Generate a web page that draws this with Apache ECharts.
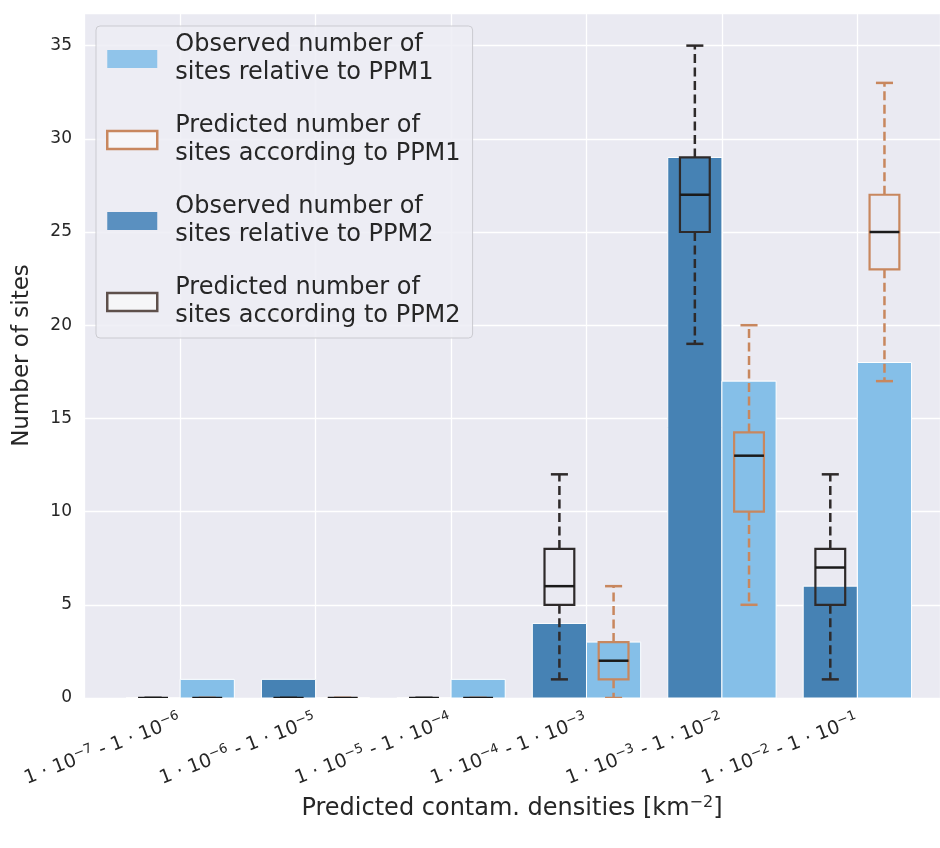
<!DOCTYPE html>
<html><head><meta charset="utf-8">
<script src="https://cdn.jsdelivr.net/npm/echarts@6/dist/echarts.min.js"></script>
<style>html,body{margin:0;padding:0;background:#fff}#c{width:940px;height:848px}</style>
</head><body><div id="c"></div>
<script>
// exponents of the density classes: 1·10^a - 1·10^b
const categories = [['−7','−6'],['−6','−5'],['−5','−4'],['−4','−3'],['−3','−2'],['−2','−1']];
const observedPPM1 = [1, 0, 1, 3, 17, 18];
const observedPPM2 = [0, 1, 0, 4, 29, 6];
// [low whisker, Q1, median, Q3, high whisker]
const predictedPPM1 = [[0,0,0,0,0],[0,0,0,0,0],[0,0,0,0,0],[0,1,2,3,6],[5,10,13,14.25,20],[17,23,25,27,33]];
const predictedPPM2 = [[0,0,0,0,0],[0,0,0,0,0],[0,0,0,0,0],[1,5,6,8,12],[19,25,27,29,35],[1,5,7,8,12]];
const yTicks = [0, 5, 10, 15, 20, 25, 30, 35];

const N1 = 'Observed number of\nsites relative to PPM1';
const N2 = 'Predicted number of\nsites according to PPM1';
const N3 = 'Observed number of\nsites relative to PPM2';
const N4 = 'Predicted number of\nsites according to PPM2';

const LIGHT = '#85bfe8', DARK = '#4682b4', ORANGE = '#c8875e', BLACKBOX = '#2e2a2a', MEDIAN = '#1a1a1a';
const TXT = '#262626';

function barItem(left, color) {
  return function (params, api) {
    const i = api.value(0), v = api.value(1);
    const x0 = left ? i - 0.4 : i;
    const p0 = api.coord([x0, v]);
    const p1 = api.coord([x0 + 0.4, 0]);
    return {type: 'rect', shape: {x: p0[0], y: p0[1], width: p1[0] - p0[0], height: p1[1] - p0[1]},
      style: {fill: color, stroke: '#ffffff', lineWidth: 1}};
  };
}
function boxItem(offset, color) {
  return function (params, api) {
    const x = api.value(0) + offset;
    const lo = api.value(1), q1 = api.value(2), md = api.value(3), q3 = api.value(4), hi = api.value(5);
    const hw = 0.11, cw = 0.063;
    const c = (a, b) => api.coord([a, b]);
    const seg = (a, b, st) => ({type: 'line', shape: {x1: a[0], y1: a[1], x2: b[0], y2: b[1]}, style: st});
    const wst = {stroke: color, lineWidth: 2.5, lineDash: [9, 4.5]};
    const cst = {stroke: color, lineWidth: 2.5};
    const tl = c(x - hw, q3), br = c(x + hw, q1);
    return {type: 'group', children: [
      seg(c(x, q1), c(x, lo), wst),
      seg(c(x, q3), c(x, hi), wst),
      seg(c(x - cw, lo), c(x + cw, lo), cst),
      seg(c(x - cw, hi), c(x + cw, hi), cst),
      {type: 'rect', shape: {x: tl[0], y: tl[1], width: br[0] - tl[0], height: br[1] - tl[1]},
        style: {fill: 'none', stroke: color, lineWidth: 2.2}},
      seg(c(x - hw, md), c(x + hw, md), {stroke: MEDIAN, lineWidth: 2.5})
    ]};
  };
}
function xLabel(v) {
  if (Math.abs(v - Math.round(v)) > 1e-6) return '';
  const k = Math.round(v);
  if (k < 0 || k >= categories.length) return '';
  const e = categories[k];
  return '{n|1 · 10}{s|' + e[0] + '}{n| - 1 · 10}{s|' + e[1] + '}';
}

const chart = echarts.init(document.getElementById('c'));
chart.setOption({
  backgroundColor: '#ffffff',
  animation: false,
  textStyle: {fontFamily: 'DejaVu Sans'},
  grid: {left: 84, right: 0, top: 13, bottom: 150, show: true, backgroundColor: '#eaeaf2', borderWidth: 0},
  legend: {
    orient: 'vertical', left: 96, top: 26, itemWidth: 50, itemHeight: 18, itemGap: 25,
    padding: [5, 12, 8, 10], backgroundColor: 'rgba(237,237,244,0.85)', borderColor: 'rgba(200,200,205,0.9)',
    borderWidth: 1, borderRadius: 4,
    textStyle: {fontSize: 24, lineHeight: 28, color: TXT, fontFamily: 'DejaVu Sans', padding: [0, 0, 0, 13]},
    data: [
      {name: N1, icon: 'rect', itemStyle: {color: '#90c4ea', borderWidth: 0}},
      {name: N2, icon: 'rect', itemStyle: {color: '#f6f6f8', borderColor: ORANGE, borderWidth: 2.5}},
      {name: N3, icon: 'rect', itemStyle: {color: '#5a90c0', borderWidth: 0}},
      {name: N4, icon: 'rect', itemStyle: {color: '#f6f6f8', borderColor: '#5e504b', borderWidth: 2.5}}
    ]
  },
  xAxis: {
    type: 'value', min: -0.71, max: 5.61, splitNumber: 6, minInterval: 1, maxInterval: 1,
    axisLine: {show: false}, axisTick: {show: false},
    splitLine: {show: true, lineStyle: {color: '#ffffff', width: 1.3}},
    axisLabel: {
      rotate: 21, margin: 22, color: TXT, formatter: xLabel, showMinLabel: false, showMaxLabel: false,
      rich: {
        n: {fontSize: 19, lineHeight: 24, color: TXT, fontFamily: 'DejaVu Sans'},
        s: {fontSize: 13, lineHeight: 13, verticalAlign: 'top', color: TXT, fontFamily: 'DejaVu Sans'}
      }
    },
    name: 'Predicted contam. densities [km{s|−2}]', nameLocation: 'middle', nameGap: 93,
    nameTextStyle: {fontSize: 24, color: TXT, fontFamily: 'DejaVu Sans', lineHeight: 28,
      rich: {s: {fontSize: 16, lineHeight: 16, verticalAlign: 'top', color: TXT, fontFamily: 'DejaVu Sans'}}}
  },
  yAxis: {
    type: 'value', min: 0, max: 36.75, interval: 5,
    axisLine: {show: false}, axisTick: {show: false},
    splitLine: {show: true, lineStyle: {color: '#ffffff', width: 1.3}},
    axisLabel: {fontSize: 17, color: TXT, margin: 12, formatter: v => yTicks.includes(v) ? String(v) : ''},
    name: 'Number of sites', nameLocation: 'middle', nameGap: 50,
    nameTextStyle: {fontSize: 23, color: TXT, fontFamily: 'DejaVu Sans'}
  },
  series: [
    {name: N3, type: 'custom', clip: true, renderItem: barItem(true, DARK), itemStyle: {color: DARK},
      encode: {x: 0, y: 1}, data: observedPPM2.map((v, i) => [i, v])},
    {name: N1, type: 'custom', clip: true, renderItem: barItem(false, LIGHT), itemStyle: {color: LIGHT},
      encode: {x: 0, y: 1}, data: observedPPM1.map((v, i) => [i, v])},
    {name: N4, type: 'custom', clip: true, renderItem: boxItem(-0.2, BLACKBOX), itemStyle: {color: BLACKBOX},
      encode: {x: 0, y: [1, 2, 3, 4, 5]}, data: predictedPPM2.map((s, i) => [i].concat(s))},
    {name: N2, type: 'custom', clip: true, renderItem: boxItem(0.2, ORANGE), itemStyle: {color: ORANGE},
      encode: {x: 0, y: [1, 2, 3, 4, 5]}, data: predictedPPM1.map((s, i) => [i].concat(s))}
  ]
});
</script>
</body></html>
